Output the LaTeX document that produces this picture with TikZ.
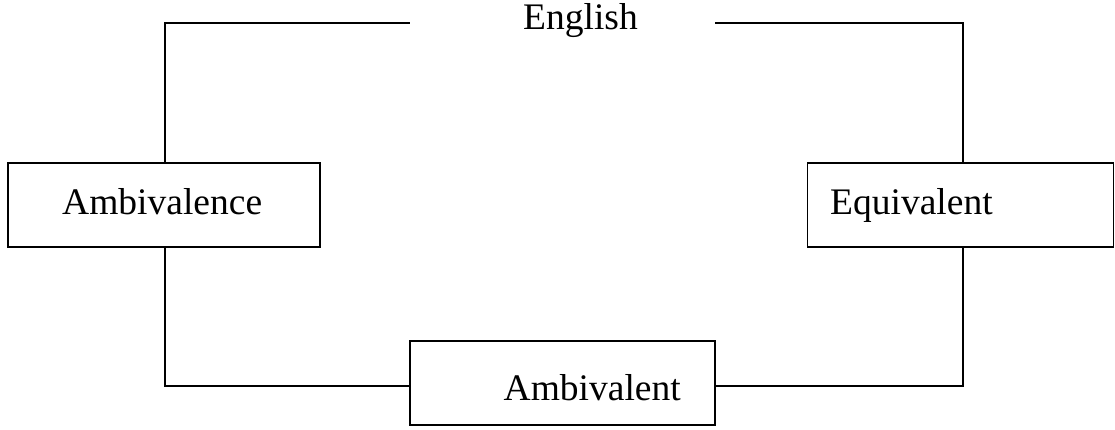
\documentclass[tikz,border=0pt]{standalone}
\usepackage{fontspec}
\setmainfont{Liberation Serif}
\begin{document}
\begin{tikzpicture}[x=1pt,y=-1pt,
  box/.style={draw, line width=1.8pt, inner sep=0pt, minimum height=84pt},
  conn/.style={line width=1.8pt},
  lbl/.style={inner sep=0pt, anchor=base west, font=\fontsize{37.5}{44}\selectfont}]
\useasboundingbox (0,0) rectangle (1115,429);
% boxes
\node[box, minimum width=312pt] (ambce) at (164,205) {};
\node[box, minimum width=306pt] (equiv) at (960.5,205) {};
\node[box, minimum width=305pt] (ambt) at (562.5,383) {};
% texts
\node[lbl] (tEnglish) at (523,29.5) {English};
\node[lbl] (tAmbce) at (62,214.5) {Ambivalence};
\node[lbl] (tEquiv) at (830,214) {Equivalent};
\node[lbl] (tAmbt) at (503.5,400.5) {Ambivalent};
% connector coordinates
\coordinate (tl) at (410,23);
\coordinate (tlc) at (165,23);
\coordinate (tr) at (715,23);
\coordinate (trc) at (963,23);
\coordinate (blc) at (165,386);
\coordinate (brc) at (963,386);
% connectors
\draw[conn] (ambce.north -| tlc) -- (tlc) -- (tl);
\draw[conn] (equiv.north -| trc) -- (trc) -- (tr);
\draw[conn] (ambce.south -| blc) -- (blc) -- (blc -| ambt.west);
\draw[conn] (equiv.south -| brc) -- (brc) -- (brc -| ambt.east);
\end{tikzpicture}
\end{document}
